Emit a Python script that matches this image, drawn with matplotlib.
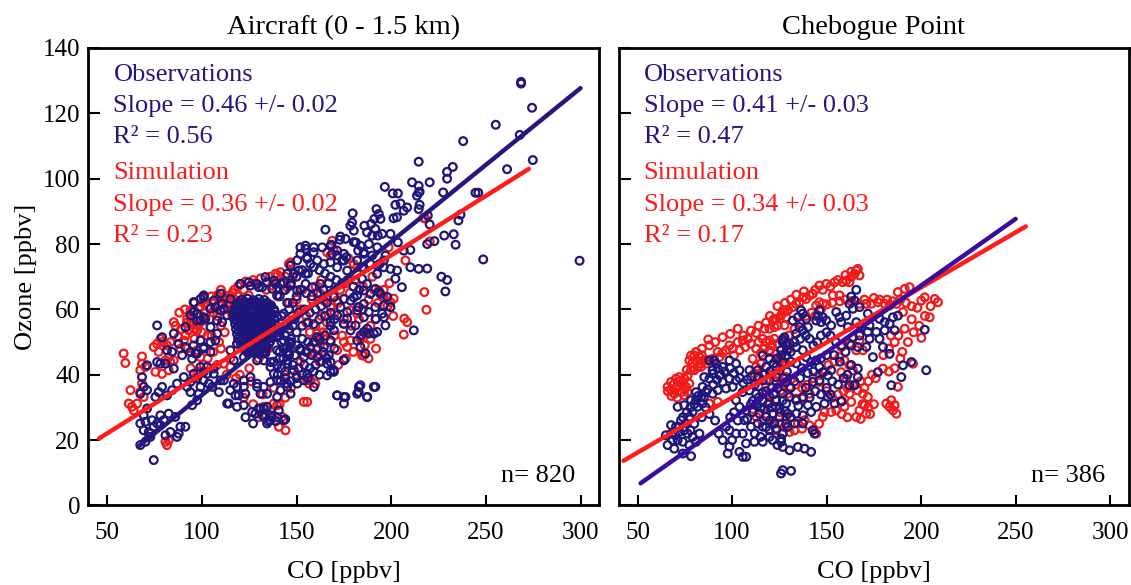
import matplotlib
matplotlib.use("Agg")
import matplotlib.pyplot as plt
import numpy as np

plt.rcParams['font.family'] = ['Liberation Serif', 'DejaVu Serif']

# ---------------- data (CO [ppbv], O3 [ppbv]) ----------------
# Aircraft (0 - 1.5 km), observations
air_obs = [
    (74.5,13.9),(67.4,18.5),(70.1,19.5),(72.7,21.0),(71.9,22.5),(69.2,23.0),(67.4,25.1),(70.1,25.6),
    (73.6,26.1),(76.3,25.1),(74.5,24.1),(78.0,24.6),(79.8,26.1),(78.0,27.6),(82.4,28.1),(85.9,27.1),
    (88.6,24.1),(91.2,24.1),(87.7,22.0),(86.8,21.0),(83.3,22.5),(80.7,21.5),(69.2,27.6),(71.0,29.7),
    (75.4,33.2),(77.1,34.7),(81.5,33.7),(84.2,35.3),(78.9,36.3),(86.8,37.3),(92.1,36.3),(93.9,37.8),
    (90.4,39.3),(95.6,40.3),(97.4,38.8),(100.9,40.9),(102.7,40.3),(106.2,41.9),(103.6,37.3),(99.2,36.3),
    (93.9,34.7),(98.3,34.2),(68.3,39.3),(69.2,36.3),(71.0,35.3),(67.4,34.2),(71.0,42.9),(76.3,43.9),
    (78.0,43.4),(80.7,43.4),(85.1,41.9),(84.2,47.0),(81.5,47.5),(89.5,46.0),(91.2,48.5),(87.7,49.5),
    (85.1,52.6),(78.9,51.5),(76.3,55.1),(91.2,54.6),(95.6,49.0),(100.9,48.0),(93.9,47.0),(97.4,46.5),
    (94.8,44.9),(95.6,62.2),(99.2,63.2),(100.9,63.8),(97.4,58.7),(101.8,57.1),(99.2,56.6),(93.9,58.2),
    (104.5,60.2),(107.1,60.7),(109.7,59.7),(111.5,60.2),(108.0,56.6),(110.6,56.1),(113.3,58.2),(104.5,54.6),
    (108.0,52.6),(104.5,50.0),(107.1,50.5),(113.3,31.2),(118.5,30.2),(122.1,30.7),(128.2,28.1),(130.0,29.7),
    (132.6,29.7),(137.0,27.1),(134.4,25.1),(139.7,27.1),(143.2,26.1),(136.2,26.1),(111.5,38.3),(115.0,35.3),
    (118.5,36.3),(122.1,38.3),(125.6,39.3),(129.1,37.3),(132.6,36.3),(136.2,37.8),(139.7,38.3),(141.5,35.3),
    (145.0,36.3),(117.7,33.7),(122.9,34.2),(130.9,34.2),(120.3,67.8),(125.6,67.3),(130.0,66.8),(134.4,68.3),
    (138.8,67.8),(143.2,68.3),(136.2,58.7),(139.7,57.6),(143.2,58.7),(132.6,55.6),(136.2,53.1),(139.7,51.5),
    (143.2,50.5),(145.0,48.5),(132.6,46.5),(136.2,43.9),(139.7,42.9),(145.0,43.4),(125.6,48.5),(129.1,47.0),
    (122.1,45.4),(116.8,44.4),(115.0,47.5),(118.5,49.5),
    (154.7,79.5),(159.1,79.0),(163.5,79.0),(167.9,79.5),(171.4,76.5),(175.0,77.0),(180.2,80.6),(183.8,79.5),
    (188.2,80.0),(192.6,79.0),(189.9,76.5),(152.0,77.0),(150.3,75.0),(155.6,75.5),(160.9,75.0),(164.4,73.9),
    (167.9,74.4),(171.4,72.9),(176.7,71.9),(174.1,75.0),(146.8,73.4),(148.5,70.9),(145.0,70.9),(151.2,71.9),
    (154.7,70.9),(185.5,77.0),(189.0,73.9),(184.6,72.9),(192.6,73.4),(196.1,75.0),(197.0,76.5),(182.0,75.0),
    (133.5,69.9),(138.0,68.8),(141.5,67.8),(129.1,67.8),(124.7,68.3),(120.3,67.8),(131.8,66.8),(137.1,66.3),
    (143.2,65.8),(139.7,64.3),(146.8,67.3),(150.3,65.8),(154.7,67.8),(158.2,66.8),(162.6,67.8),(95.7,62.2),
    (100.9,64.3),(106.2,62.7),(110.6,61.7),(115.0,63.2),(109.8,64.8),(169.7,63.8),(175.0,63.2),(178.5,62.7),
    (182.0,64.3),(185.5,65.8),(189.0,64.8),(193.5,65.3),(197.9,63.8),(173.2,60.7),(176.7,59.2),(182.0,59.7),
    (185.5,57.6),(191.7,57.1),(196.1,57.6),(199.6,60.7),(187.3,54.1),(190.8,52.6),(183.8,52.1),(171.4,58.2),
    (175.0,55.6),(167.9,56.1),(169.7,53.6),(178.5,53.6),(182.0,50.5),(175.0,44.4),(166.1,43.4),(169.7,40.9),
    (166.1,39.8),(171.4,33.7),(175.0,33.2),(175.0,31.2),(182.9,36.3),(182.0,34.2),(187.3,33.2),(190.8,36.3),
    (114.2,31.2),(119.4,33.7),(116.8,37.3),(122.1,36.3),(126.5,28.6),(130.9,29.7),(136.2,27.6),(131.8,27.6),
    (139.7,33.2),(134.4,34.2),(129.1,36.3),(140.6,29.1),(134.4,30.2),(95.7,59.2),(97.4,56.6),(100.9,57.6),
    (99.2,50.5),(96.5,46.5),(100.9,48.5),(104.5,47.0),(102.7,42.4),(106.2,40.3),(109.8,38.3),(105.4,36.3),
    (108.9,34.7),(97.4,32.2),(94.8,30.7),(100.9,38.3),(99.2,42.4),(139.7,47.5),(145.0,44.4),(148.5,41.4),
    (153.8,38.3),(150.3,37.3),(155.6,40.3),(159.1,36.3),(145.0,37.3),(146.8,34.2),(138.0,40.3),(141.5,38.3),
    (132.7,44.4),(136.2,42.4),(129.1,44.4),(146.8,49.5),(152.0,47.5),(157.3,48.5),(160.9,45.4),(153.8,45.4),
    (167.9,50.5),(164.4,48.5),(160.9,51.5),
    (214.5,105.2),(211.0,98.9),(214.5,97.8),(214.5,95.8),(213.6,94.8),(196.6,97.5),(200.8,95.5),(203.5,95.5),
    (204.9,92.4),(202.2,92.0),(208.4,91.2),(206.6,90.2),(214.5,90.7),(179.6,89.4),(192.2,90.7),(193.4,89.2),
    (191.1,87.7),(194.3,87.7),(203.0,88.2),(201.2,87.9),(165.2,84.4),(179.3,86.6),(178.4,85.6),(180.2,84.1),
    (185.8,85.6),(189.4,86.2),(191.6,84.6),(173.1,82.3),(175.8,81.6),(172.8,81.3),(187.2,83.6),(189.9,82.6),
    (192.9,82.6),(195.2,83.1),(199.6,83.1),(203.5,80.5),(210.1,78.2),(206.6,78.0),(222.8,80.9),(181.3,80.5),
    (182.5,78.0),(185.5,77.5),(176.3,76.0),(174.9,75.0),(168.4,79.8),(168.8,77.0),(171.4,78.0),(159.0,77.5),
    (155.5,76.0),(157.3,73.9),(152.0,79.0),(154.7,78.5),(193.8,73.9),(192.5,70.9),(196.0,72.9),(199.6,72.4),
    (203.1,71.9),(202.2,69.4),(210.1,72.9),(214.5,72.4),(205.6,66.8),(184.6,69.4),(187.2,67.8),(191.6,66.3),
    (189.0,64.8),(194.3,64.8),(180.2,63.7),(182.8,60.7),(185.5,61.7),(188.1,59.2),(191.6,60.7),(196.0,61.2),
    (195.2,58.7),(196.9,55.1),(192.5,53.1),(188.1,52.6),(185.5,53.1),(211.9,53.6),(181.1,55.1),(176.7,57.2),
    (174.9,55.6),(186.4,46.5),(183.7,48.5),(174.9,44.6),(167.9,43.9),(169.6,41.4),(167.9,40.9),(183.7,36.8),
    (182.8,34.7),(191.6,36.3),(187.2,33.2),(171.4,33.7),(175.8,33.2),
    (268.6,129.1),(268.6,129.6),(274.4,121.7),(255.2,116.5),(238.0,111.5),(267.9,113.4),(274.8,105.7),
    (261.2,102.9),(232.5,103.6),(229.5,102.1),(229.5,100.0),(220.3,98.9),(244.5,95.7),(246.0,95.7),
    (227.4,95.8),(215.0,96.0),(215.0,92.0),(236.6,89.0),(235.5,87.2),(219.3,88.7),(220.3,86.0),(233.0,83.0),
    (228.0,82.6),(234.0,79.8),(219.0,80.0),(248.6,75.3),(299.5,74.9),(226.5,70.0),(229.5,69.0),(228.6,65.5),
    (219.0,72.5),
    (127.0,25.1),(123.0,27.0),(133.0,27.0),(135.0,25.8),(139.0,25.8),(144.0,26.4),
    # dense core
    (121,63),(124,63.3),(127,62.8),(130,63.2),(133,62.9),
    (118.5,61.5),(121.5,61.7),(124.5,61.3),(127.5,61.6),(130.5,61.4),(133.5,61.7),(136.5,61.3),
    (117,60),(120,59.8),(123,60.2),(126,59.9),(129,60.1),(132,59.8),(135,60.2),(138,60),
    (116.5,58.5),(119.5,58.6),(122.5,58.4),(125.5,58.7),(128.5,58.3),(131.5,58.6),(134.5,58.4),(137.5,58.5),
    (117,57),(120,56.8),(123,57.2),(126,56.9),(129,57.1),(132,56.8),(135,57.2),(138,57),
    (117.5,55.5),(120.5,55.7),(123.5,55.3),(126.5,55.6),(129.5,55.4),(132.5,55.7),(135.5,55.3),(138.5,55.5),
    (118,54),(121,53.8),(124,54.2),(127,53.9),(130,54.1),(133,53.8),(136,54.2),(139,54),
    (118.5,52.5),(121.5,52.7),(124.5,52.3),(127.5,52.6),(130.5,52.4),(133.5,52.7),(136.5,52.3),
    (119,51),(122,50.8),(125,51.2),(128,50.9),(131,51.1),(134,50.8),(137,51.2),
    (120.5,49.5),(123.5,49.7),(126.5,49.3),(129.5,49.6),(132.5,49.4),(135.5,49.6),
    (122,48),(125,47.8),(128,48.2),(131,47.9),(134,48.1),
    (124.5,46.5),(127.5,46.7),(130.5,46.3),(133.5,46.6),
    (119.5,62.2),(122.5,62.3),(125.5,62.1),(128.5,62.4),(131.5,62.2),(134.5,62.0),
    (118,60.8),(121,60.9),(124,60.7),(127,60.8),(130,60.9),(133,60.7),(136,60.8),
    (117.5,59.2),(120.5,59.3),(123.5,59.1),(126.5,59.2),(129.5,59.3),(132.5,59.1),(135.5,59.2),(138.5,59.3),
    (118,57.8),(121,57.9),(124,57.7),(127,57.8),(130,57.9),(133,57.7),(136,57.8),
    (118.5,56.2),(121.5,56.3),(124.5,56.1),(127.5,56.2),(130.5,56.3),(133.5,56.1),(136.5,56.2),
    (119,54.8),(122,54.9),(125,54.7),(128,54.8),(131,54.9),(134,54.7),(137,54.8),
    (119.5,53.2),(122.5,53.3),(125.5,53.1),(128.5,53.2),(131.5,53.3),(134.5,53.1),(137.5,53.2),
    (120,51.8),(123,51.9),(126,51.7),(129,51.8),(132,51.9),(135,51.7),
    (121,50.2),(124,50.3),(127,50.1),(130,50.2),(133,50.3),(136,50.1),
    (122,48.8),(125,48.9),(128,48.7),(131,48.8),(134,48.9),
    (123.5,47.2),(126.5,47.3),(129.5,47.1),(132.5,47.2),
    (141,47),(143,45),(145,47),(142,50),(144,52),(146,54),(141,53),(147,50),(140,40),(142,42),(144,39),
    (138,44),(146,46),
    (146,60),(148,62),(150,64),(152,66),(155,65),(158,64),(161,65),(164,66),(167,68),(149,57),(151,59),
    (154,60),(157,59),(160,60),(163,61),(166,62),(148,55),(150,53),(153,55),(156,56),(159,55.5),(162,57),
    (165,58),(168,59),(147,51),(150,49),(153,51),(156,50),(159,50),(162,51),(165,52),(168,55),(170,57),
    (146,47),(149,46),(152,48),(155,47),(158,46),(161,48),(164,47),(167,46),(170,48),(148,43),(151,42),
    (154,43),(157,42),(160,43),(163,44),(166,45),(150,39),(153,40),(156,39),(159,41),(162,40),(147,38),
    (144,41),(141,45),(143,48),(141,52),(144,55),(142,58),(145,62),(141,64),(144,66),(147,68),(150,70),
    (153,72),(156,71),(159,73),(162,72),(165,71),(168,70),(171,69),(174,68),(177,69),(180,67),(183,66),
]

# Aircraft (0 - 1.5 km), simulation
air_sim = [
    (58.6,46.5),(59.5,43.6),(68.3,45.6),(68.3,43.4),(67.4,41.4),(70.1,42.4),(62.2,35.3),(61.3,31.2),
    (63.0,30.2),(65.7,31.2),(63.9,29.1),(68.3,37.3),(67.4,34.7),(69.2,33.2),(74.5,48.5),(76.3,49.5),
    (78.0,51.0),(78.9,50.0),(77.1,47.0),(81.5,49.0),(83.3,50.0),(75.4,40.9),(78.9,40.3),(82.4,41.4),
    (85.1,44.4),(80.7,44.4),(82.4,45.4),(83.3,43.9),(85.1,56.1),(92.1,57.1),(93.9,56.1),(93.0,53.6),
    (91.2,52.1),(95.6,54.1),(97.4,53.6),(93.9,59.7),(98.3,60.2),(100.9,56.6),(87.7,51.5),(90.4,50.5),
    (88.6,48.0),(92.1,48.0),(93.9,47.0),(97.4,47.5),(99.2,45.4),(108.0,64.3),(110.6,64.8),(115.0,64.3),
    (116.8,63.2),(108.9,61.7),(113.3,61.7),(137.0,67.3),(139.7,66.3),(142.3,68.3),(145.0,66.8),(80.7,19.5),
    (81.5,18.5),(82.4,20.0),(72.7,22.0),(71.9,21.0),(139.7,30.7),(143.2,26.1),(144.1,23.0),(140.6,24.1),
    (145.9,73.9),(146.8,74.4),(166.1,77.5),(167.9,76.5),(180.2,73.9),(182.0,72.9),(177.6,75.5),(141.5,71.4),
    (138.8,70.9),(124.7,64.3),(110.6,64.8),(108.0,63.8),(100.9,63.2),(99.2,60.7),(95.7,59.7),(97.4,55.6),
    (94.8,55.6),(104.5,60.7),(164.4,62.7),(167.9,60.7),(182.0,60.7),(183.8,51.0),(185.5,45.9),(171.4,47.5),
    (176.7,48.5),(178.5,50.5),(160.0,51.5),(162.6,50.5),(160.9,45.4),(157.3,38.3),(156.5,37.3),(155.6,31.7),
    (153.8,31.7),(137.9,31.2),(132.7,30.2),(142.4,27.1),(123.0,54.6),(127.4,52.6),(118.6,49.5),(111.5,43.4),
    (115.0,42.4),
    (218.6,59.9),(206.9,57.2),(208.4,56.1),(206.6,52.3),(218.0,87.8),(207.5,75.0),(201.3,63.3),(199.6,62.2),
    (196.0,63.8),(198.6,79.0),(193.4,65.8),(183.7,51.5),(184.6,45.9),(168.8,81.0),(169.6,78.0),(174.9,75.0),
    (162.6,64.8),(166.1,63.7),(171.4,62.7),(178.4,59.7),(181.9,58.7),(160.8,52.6),(162.6,49.5),(159.0,46.5),
    (159.9,37.3),(155.5,38.3),(217.5,65.3),(220.3,80.8),(217.0,88.0),
    (102,62),(105,64),(106,59),(104,57),(99,58),(96,62),(110,66),(112,63),(114,60),(117,66),(119,64),
    (103,52),(100,53),(96,51),(89,54),(86,55),(88,59),(91,60),
    (163,58),(166,56),(170,59),(172,62),(175,57),(179,55),(183,57),(186,53),(174,52),(168,50),(164,53),
    (160,55),(157,53),(155,56),(152,60),(150,63),(148,58),(153,66),(158,63),(178,65),(181,69),(185,67),
    (190,70),(195,64),(198,61),(201,58),(192,57),(189,55),(176,45),(172,43),(165,46),(162,44),(156,47),
    (112,60),(118,62),(122,66),(128,68),(134,66),(140,64),(146,62),(150,60),(155,58),(145,55),(140,52),
    (135,48),(130,45),(125,42),(120,40),(115,45),(110,48),(105,52),(148,48),(152,44),(144,40),(138,36),
    (132,34),(126,38),(110,55),(116,58),
    (92,56),(95,57.5),(98,55),(101,59),(103,61),(106,62.5),(108,58),(111,61.5),(113,64),(116,65),(119,67),
    (123,68.5),(127,69),(131,69.5),(136,70),(140,70.5),(144,70),(148,70),(112,53),(109,50),(106,47),
    (103,45),(101,43),(98,41),(96,39),(94,42),(170,64),(173,66),(176,68),(160,67),(163,69),(185,60),
    (188,63),(191,66),(193,62),(196,66),(199,68),(186,49),(189,51),(192,48),(188,45),(180,47),(175,50),
    (170,52),(166,53),(150,40),(147,36),(144,33),(141,31),(136,29),(130,27),(127,31),(122,33),(118,39),
    (113,40),(108,43),
]

# Chebogue Point, observations
cheb_obs = [
    (126.8,50.7),(128.6,49.0),(125.9,47.5),(128.6,45.9),(126.8,43.9),
    (90.6,44.4),(92.4,41.9),(89.7,40.3),(88.0,38.8),(85.3,39.3),(93.3,39.8),(95.0,37.8),(98.6,38.8),
    (102.1,38.3),(100.3,36.3),(96.8,35.8),(92.4,35.3),(89.7,34.2),(86.2,34.7),(83.6,33.2),(80.9,32.2),
    (84.4,31.2),(81.8,30.2),(79.1,28.6),(77.4,27.1),(75.6,25.1),(74.7,23.0),(72.1,22.5),(70.3,24.1),
    (73.0,26.1),(76.5,22.0),(79.1,21.0),(82.7,22.0),(80.9,19.5),(77.4,18.5),(73.9,19.5),(71.2,20.0),
    (68.6,20.0),(65.9,18.5),(69.4,17.4),(78.3,15.1),(73.9,15.9),(65.0,21.5),(67.7,24.6),(71.2,30.2),
    (74.7,30.7),(78.3,32.2),(80.9,34.7),(84.4,36.3),
    (105.6,34.7),(109.2,35.2),(112.7,34.2),(116.2,32.2),(119.8,33.2),(123.3,32.2),(126.8,34.2),(128.6,31.2),
    (125.1,29.6),(121.5,28.1),(118.0,27.1),(114.5,28.1),(110.9,28.6),(107.4,29.1),(103.9,30.2),(102.1,32.2),
    (106.5,26.1),(110.0,24.1),(113.6,25.1),(116.2,24.1),(119.8,23.0),(123.3,23.5),(126.8,22.0),(129.5,24.1),
    (125.9,19.5),(121.5,20.0),(116.2,19.5),(111.8,19.5),(107.4,19.0),(105.6,22.0),(102.1,22.0),(98.6,23.0),
    (96.8,24.1),(98.6,18.0),(103.9,16.4),(107.4,14.9),(97.7,15.9),(105.6,14.9),
    (126.8,10.8),(125.9,9.8),(131.2,10.6),
    (116.2,45.9),(119.8,44.9),(123.3,42.4),(118.0,42.4),(113.6,41.4),(109.2,41.4),(123.3,39.3),(128.6,37.8),
    (119.8,38.3),(116.2,38.3),(88.0,44.4),(91.5,43.4),(95.0,42.4),(98.6,44.4),(102.1,43.4),(103.9,41.4),
    (89.7,41.4),
    (113,31),(115,30),(117,29.5),(119,31),(121,30),(114,33),(118,35),(121,36),(111,32),(116,34.5),
    (165.7,66.0),(163.0,63.9),(164.8,62.7),(162.1,61.7),(163.9,60.2),(167.4,60.7),
    (146.2,59.7),(145.4,58.1),(148.0,57.6),(144.5,56.6),(147.1,56.1),(149.8,56.6),(152.4,55.1),(155.1,59.2),
    (156.8,57.6),(160.4,58.1),(157.7,56.1),(161.3,54.6),(165.7,56.1),(168.3,54.6),(172.7,55.1),(171.8,58.7),
    (178.0,57.1),(180.7,56.1),(183.3,55.6),(185.1,57.6),(187.7,58.1),(186.0,53.6),(180.7,53.6),(176.3,53.1),
    (171.8,53.1),(167.4,52.0),(163.9,51.5),(163.0,49.0),(166.5,48.5),(171.0,48.5),(174.5,45.4),(179.8,48.5),
    (183.3,46.4),(172.7,51.0),(178.0,51.0),
    (201.9,53.8),(202.7,41.4),(194.8,43.9),(190.4,42.9),(189.5,39.3),(184.2,36.8),
    (177.1,40.8),(166.5,41.9),(166.5,39.3),(162.1,36.8),(164.8,36.8),
    (135.7,54.6),(137.4,53.6),(140.1,54.6),(133.9,52.6),(127.7,51.5),(126.8,50.0),(130.4,49.5),(133.9,48.5),
    (137.4,47.5),(139.2,45.4),(141.8,43.9),(144.5,44.4),(146.2,42.4),(148.0,40.8),(152.4,41.4),(150.7,39.8),
    (146.2,38.3),(142.7,37.8),(150.7,33.2),(154.2,31.2),(148.9,31.2),(144.5,30.2),(140.1,30.7),(137.4,33.2),
    (133.9,32.2),(130.4,33.2),(126.8,32.2),(123.3,30.2),(121.5,28.1),(125.1,27.1),(129.5,28.1),(133.9,28.1),
    (137.4,27.6),(141.8,28.6),(137.4,25.1),(133.0,25.1),(128.6,25.1),(122.4,25.1),(119.8,21.0),(125.9,20.5),
    (126.8,17.9),(130.4,16.9),(134.8,17.9),(138.3,17.4),(141.8,16.4),(142.7,23.0),(143.6,22.0),
    (136.5,59.7),(137.4,58.7),(134.8,57.6),(132.1,56.6),(139.2,57.1),
    (68,22),(70,21.5),(72,24),(74,27),(76,28.5),(78,30),(80,31),(82,33.5),(85,33),(87,35.5),(90,37),
    (92,38.5),(94,40),(96,41),(99,42),(101,40.5),(104,39),(106,37.5),(108,38.5),(110,39.5),(112,37),
    (114,39.5),(117,40),(120,41),(122,43.5),(124,45),(126,46),(129,47.5),(131,47),(133,50),(136,51),
    (139,52),(141,51),(143,49),(145,50),(147,52),(150,53),(152,52),(155,50),(158,49),(160,47),(157,44),
    (154,46),(150,46),(147,45),(143,41),(140,40.5),(137,42),(134,43.5),(131,44),(129,41),(127,39),
    (124,36),(122,34),(131,36),(133,38),(136,39),(139,36),(141,33),(144,35),(147,34),(150,36),(153,38),
    (156,37),(159,39),(161,40),(163,43),(158,32),(152,34),(99,27),(101,28.5),(103,26),(108,26.5),
    (112,22),(115,21),(118,24),(100,20),(95,20),(93,22),(91,26),(88,28),(86,30),(84,27),(80,25),(78,23),
    (110,31),(120,26),(128,29),(135,30.5),(131,27),(124,18.5),
]

# Chebogue Point, simulation
cheb_sim = [
    (87.4,50.8),(103.0,54.1),(117.1,54.1),(112.7,52.8),(122.4,57.1),(125.1,57.1),(126.8,59.7),(129.5,59.9),
    (128.6,57.6),(124.2,55.1),(127.7,55.1),
    (108.3,51.0),(105.6,50.5),(103.0,50.0),(98.6,49.0),(96.8,47.5),(100.3,48.0),(95.0,46.7),(92.4,47.0),
    (93.3,45.4),(89.7,44.9),(87.1,44.4),(85.3,44.6),(83.6,43.4),
    (116.2,51.0),(119.8,50.5),(122.4,51.0),(117.1,48.0),(115.3,46.7),
    (78.3,45.9),(80.0,45.9),(77.4,44.4),(82.7,45.4),(80.9,44.4),(79.1,42.4),(81.8,42.4),(78.3,41.4),
    (76.5,39.8),(74.7,38.8),(72.1,39.3),(70.3,38.8),(67.7,37.8),(65.9,36.3),(67.7,35.3),(70.3,35.8),
    (73.0,34.7),(75.6,36.3),(77.4,37.3),(73.9,37.3),(71.2,36.8),(69.4,34.2),(74.7,33.7),(76.5,34.7),
    (80.0,41.4),(83.6,42.4),(86.2,43.4),
    (110.9,44.9),(112.7,42.4),(115.3,43.4),(111.8,40.4),(116.2,40.4),(118.0,38.3),
    (123.3,44.9),(125.9,45.4),(128.6,43.4),(125.1,41.4),(128.6,39.3),(126.8,37.3),(130.4,36.3),(125.1,28.6),
    (128.6,27.1),(125.1,25.1),
    (92.4,31.7),(88.0,31.2),(112.7,48.0),(119.8,47.0),(128.6,49.0),(130.4,48.0),
    (166.5,72.4),(167.4,70.4),(164.8,70.9),(163.0,69.9),(162.1,68.3),(160.4,68.8),(158.6,68.3),(165.7,71.9),
    (154.2,68.3),(149.8,67.8),(146.2,67.3),(142.7,64.8),(141.0,64.3),(139.2,63.2),(137.4,63.7),(135.7,62.2),
    (133.9,61.7),(132.1,60.7),(129.5,59.7),(127.7,59.2),(125.9,58.2),(123.3,57.1),(121.5,56.6),(122.4,54.6),
    (119.8,54.1),
    (153.3,64.3),(156.8,64.3),(148.0,61.7),(146.2,62.2),(144.5,61.2),
    (167.4,61.7),(171.0,61.7),(173.6,61.7),(177.1,62.2),(180.7,61.7),(183.3,61.2),(186.9,61.7),
    (187.7,65.3),(191.3,66.3),(193.9,66.8),(200.1,62.7),(201.9,63.7),(207.2,63.2),(208.9,62.2),(204.5,57.6),
    (200.1,51.3),(191.3,54.1),(190.4,59.2),
    (156.8,45.4),(159.5,44.4),(162.1,42.9),(163.9,41.4),(157.7,40.8),(160.4,38.8),(163.9,36.8),(166.5,35.2),
    (169.2,34.2),(171.8,33.2),(162.1,34.2),(163.0,31.7),(159.5,30.2),(167.4,29.1),(170.9,28.1),(165.7,27.1),
    (170.1,30.7),(157.7,31.7),(155.1,29.1),(152.4,28.6),
    (148.9,28.6),(148.0,27.1),(142.7,23.0),(144.5,22.0),(138.3,26.1),(134.8,25.1),(130.4,22.5),(127.7,24.0),
    (123.3,23.0),(121.5,25.1),
    (181.6,31.2),(184.2,32.2),(186.0,30.7),(185.1,29.1),(186.9,28.1),(183.3,30.2),
    (179.8,41.9),(195.7,43.4),(187.7,36.3),
    (119.8,47.5),(123.3,46.4),(125.1,44.4),(126.8,42.9),(122.4,38.3),(125.9,35.2),(129.5,34.2),(133.9,32.7),
    (137.4,32.7),(141.0,34.2),(146.2,37.8),
    (167.4,50.5),(162.1,49.5),(157.7,48.5),(165.7,47.5),(169.2,47.5),
    (84,48),(88,49),(91,50),(95,51.5),(99,52.5),(106,52),(110,53.5),(114,55),(118,56),(120,58),(124,61),
    (128,62),(131,63),(134,64.5),(138,65.5),(144,66),(148,66),(152,67),(156,69),(160,70.5),(163,71.5),
    (101,46),(104,47.5),(107,48.5),(110,49.5),(114,50),(118,50),(121,49),(124,49.5),(127,51),(130,52),
    (133,54),(136,56),(139,58),(142,59),(144,58),(147,60),(150,61.5),(153,62),(157,62.5),(160,63),
    (163,62.5),(170,63),(175,63.5),(178,63),(182,63),(185,62.5),(189,63),(192,62),(195,61),(198,60.5),
    (134,37),(137,36),(140,37),(143,39),(146,40),(149,41),(151,43),(154,44),(150,35),(153,33),(156,34),
    (159,35),(161,36),(165,37),(168,38),(170,36),(172,38),(174,40),(176,39),(169,31),(172,30),(175,31),
    (173,28),(168,26.5),(161,27),(158,28),(146,25),(141,24.5),(137,23.5),(133,23),(129,24),(118,28),
    (116,26),(113,27),(111,29.5),(120,31.5),(118,34),(114,36.5),(121,40),(124,40),(131,38.5),
    (180,46),(183,48),(186,50),(188,52),(184,52),(190,47),(193,50),(196,53),(199,55),(202,58),(205,61),
    (195,57),(189,45),(186,42),(183,41),
    (69,37),(72,38),(76,41.5),(79,43.5),(81,47),(84,46),(66,35),(68,33.5),(71,33),(75,35.5),
]

# regression lines (end points)
air_obs_fit = ([66.3, 300.0], [18.0, 127.7])
air_sim_fit = ([45.6, 272.7], [20.5, 103.0])
cheb_obs_fit = ([51.6, 250.0], [6.8, 87.7])
cheb_sim_fit = ([42.6, 255.4], [13.7, 85.4])

panel_titles = ["Aircraft (0 - 1.5 km)", "Chebogue Point"]
obs_stats = [("0.46 +/- 0.02", "0.56"), ("0.41 +/- 0.03", "0.47")]
sim_stats = [("0.36 +/- 0.02", "0.23"), ("0.34 +/- 0.03", "0.17")]
n_points = [820, 386]
x_ticks = [50, 100, 150, 200, 250, 300]
y_ticks = [0, 20, 40, 60, 80, 100, 120, 140]

# ---------------- styling ----------------
BLUE_PT = '#1e167a'
RED_PT = '#f01a1a'
BLUE_TXT = '#22197f'
RED_TXT = '#ff1a1a'
LINE_BLUE = ['#22187f', '#3a0c9e']
LINE_RED = '#ff1c1c'

fig = plt.figure(figsize=(11.31, 5.85), dpi=100)
ax1 = fig.add_axes([0.0782, 0.1359, 0.4518, 0.7821])
ax2 = fig.add_axes([0.547, 0.1359, 0.4513, 0.7821])

panels = [
    (ax1, air_obs, air_sim, air_obs_fit, air_sim_fit),
    (ax2, cheb_obs, cheb_sim, cheb_obs_fit, cheb_sim_fit),
]

for i, (ax, obs, sim, ofit, sfit) in enumerate(panels):
    so = np.array(obs)
    ss = np.array(sim)
    ax.scatter(ss[:, 0], ss[:, 1], s=31, facecolors='none', edgecolors=RED_PT,
               linewidths=1.6, zorder=2)
    ax.scatter(so[:, 0], so[:, 1], s=31, facecolors='none', edgecolors=BLUE_PT,
               linewidths=1.6, zorder=3)
    if i == 0:
        ax.plot(ofit[0], ofit[1], color=LINE_BLUE[i], lw=3.2, solid_capstyle='round', zorder=4)
        ax.plot(sfit[0], sfit[1], color=LINE_RED, lw=3.2, solid_capstyle='round', zorder=5)
    else:
        ax.plot(sfit[0], sfit[1], color=LINE_RED, lw=3.2, solid_capstyle='round', zorder=4)
        ax.plot(ofit[0], ofit[1], color=LINE_BLUE[i], lw=3.2, solid_capstyle='round', zorder=5)

    ax.set_xlim(40, 310)
    ax.set_ylim(0, 140)
    ax.set_xticks(x_ticks)
    ax.set_yticks(y_ticks)
    ax.tick_params(axis='both', direction='in', width=1.5, labelsize=18)
    ax.tick_params(axis='y', length=8.5, pad=6)
    ax.tick_params(axis='x', length=7, pad=12)
    for sp in ax.spines.values():
        sp.set_linewidth(2.0)
    ax.set_xlabel("CO [ppbv]", fontsize=19, labelpad=12)
    ax.set_title(panel_titles[i], fontsize=20.5, pad=10)

    tx = 0.049
    ax.text(tx, 0.9285, "Observations", color=BLUE_TXT, fontsize=19,
            transform=ax.transAxes, va='baseline', ha='left')
    ax.text(tx, 0.861, "Slope = " + obs_stats[i][0], color=BLUE_TXT, fontsize=19,
            transform=ax.transAxes, va='baseline', ha='left')
    ax.text(tx, 0.792, "R\u00b2 = " + obs_stats[i][1], color=BLUE_TXT, fontsize=19,
            transform=ax.transAxes, va='baseline', ha='left')
    ax.text(tx, 0.714, "Simulation", color=RED_TXT, fontsize=19,
            transform=ax.transAxes, va='baseline', ha='left')
    ax.text(tx, 0.644, "Slope = " + sim_stats[i][0], color=RED_TXT, fontsize=19,
            transform=ax.transAxes, va='baseline', ha='left')
    ax.text(tx, 0.575, "R\u00b2 = " + sim_stats[i][1], color=RED_TXT, fontsize=19,
            transform=ax.transAxes, va='baseline', ha='left')
    ax.text(0.953, 0.052, "n= %d" % n_points[i], color='black', fontsize=19,
            transform=ax.transAxes, va='baseline', ha='right')

ax1.set_ylabel("Ozone [ppbv]", fontsize=19, labelpad=4)
ax2.tick_params(axis='y', labelleft=False)

fig.savefig("out.png", dpi=100)
